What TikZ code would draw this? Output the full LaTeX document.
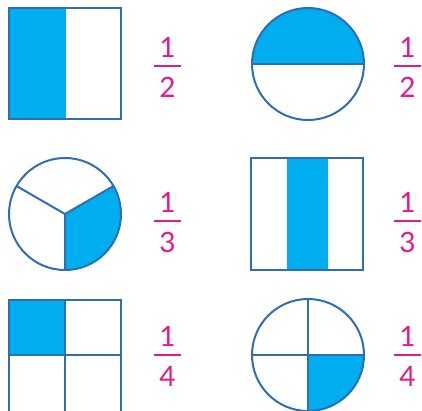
\documentclass[tikz,border=0pt]{standalone}
\usepackage{fontspec}
\setmainfont{Lato}
\definecolor{fillblue}{HTML}{00AEEF}
\definecolor{edgeblue}{HTML}{2F6DB5}
\definecolor{fracpink}{HTML}{E6198A}
\begin{document}
\begin{tikzpicture}[x=1pt,y=-1pt,
  edge/.style={draw=edgeblue,line width=2pt},
  shade/.style={fill=fillblue},
  digit/.style={text=fracpink,font=\fontsize{28}{30}\selectfont,inner sep=0pt,anchor=base},
  fbar/.style={draw=fracpink,line width=1.5pt}]
\useasboundingbox (0,0) rectangle (422,410);
\tikzset{frac/.pic={
  \coordinate (-bl) at (-13.5,0);
  \coordinate (-br) at (13.5,0);
  \draw[fbar] (-bl) -- (-br);
  \node[digit] (-num) at (0,-9) {\tikzpictext};
  \node[digit] (-den) at (0,31) {\tikzpictextoptions};
}}
% 1: square half
\fill[shade] (9,8) rectangle (66,119);
\draw[edge] (9,8) rectangle (121,119);
\pic (f1) at (167.5,66) [pic text=1, pic text options=2] {frac};
% 2: circle half (top filled)
\coordinate (c2) at (308,64);
\fill[shade] (c2) ++(56,0) arc[start angle=0,end angle=-180,radius=56] -- cycle;
\draw[edge] (c2) circle[radius=56];
\draw[edge] (252,64) -- (364,64);
\pic (f2) at (407.5,66) [pic text=1, pic text options=2] {frac};
% 3: circle thirds (lower right filled)
\coordinate (c3) at (65,214);
\fill[shade] (c3) -- ++(90:56) arc[start angle=90,end angle=-30,radius=56] -- cycle;
\draw[edge] (c3) circle[radius=56];
\draw[edge] (c3) -- ++(-150:56);
\draw[edge] (c3) -- ++(-30:56);
\draw[edge] (c3) -- ++(90:56);
\pic (f3) at (167.5,221) [pic text=1, pic text options=3] {frac};
% 4: rectangle thirds
\fill[shade] (287,158) rectangle (328,270);
\draw[edge] (251,158) rectangle (363,270);
\pic (f4) at (407.5,221) [pic text=1, pic text options=3] {frac};
% 5: square quarters
\fill[shade] (9,300) rectangle (65,355);
\draw[edge] (9,300) rectangle (121,412);
\draw[edge] (9,355) -- (121,355);
\draw[edge] (65,300) -- (65,412);
\pic (f5) at (167.5,355) [pic text=1, pic text options=4] {frac};
% 6: circle quarters (bottom right filled)
\coordinate (c6) at (308,355);
\fill[shade] (c6) -- ++(0:56) arc[start angle=0,end angle=90,radius=56] -- cycle;
\draw[edge] (c6) circle[radius=56];
\draw[edge] (252,355) -- (364,355);
\draw[edge] (308,299) -- (308,411);
\pic (f6) at (407.5,355) [pic text=1, pic text options=4] {frac};
\end{tikzpicture}
\end{document}
